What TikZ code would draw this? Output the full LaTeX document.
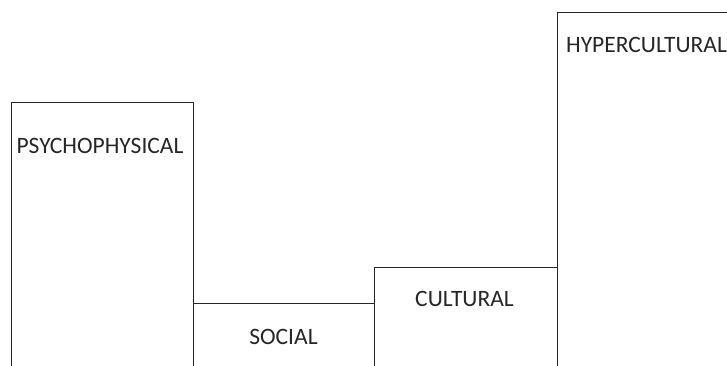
\documentclass[tikz,border=0pt]{standalone}
\usepackage{fontspec}
\setmainfont{Carlito}
\begin{document}
\begin{tikzpicture}[x=1pt,y=-1pt,
  levelbox/.style={draw=black!85,line width=1.4pt,rectangle,inner sep=0pt,anchor=north west},
  lbl/.style={font=\fontsize{23.5}{26}\selectfont,text=black!85,inner sep=0pt}]
\useasboundingbox (0,0) rectangle (727,366);
\clip (0,0) rectangle (727,366);
\node[levelbox,minimum width=182.5pt,minimum height=300pt] (psy) at (10.5,102) {};
\node[levelbox,minimum width=181pt,minimum height=100pt] (soc) at (193,303) {};
\node[levelbox,minimum width=183pt,minimum height=140pt] (cul) at (374,267) {};
\node[levelbox,minimum width=220pt,minimum height=400pt] (hyp) at (557,12) {};
\node[lbl] (tpsy) at (100,146) {PSYCHOPHYSICAL};
\node[lbl] (tsoc) at (283.5,337) {SOCIAL};
\node[lbl] (tcul) at (464.5,299) {CULTURAL};
\node[lbl] (thyp) at (646.5,45) {HYPERCULTURAL};
\end{tikzpicture}
\end{document}
